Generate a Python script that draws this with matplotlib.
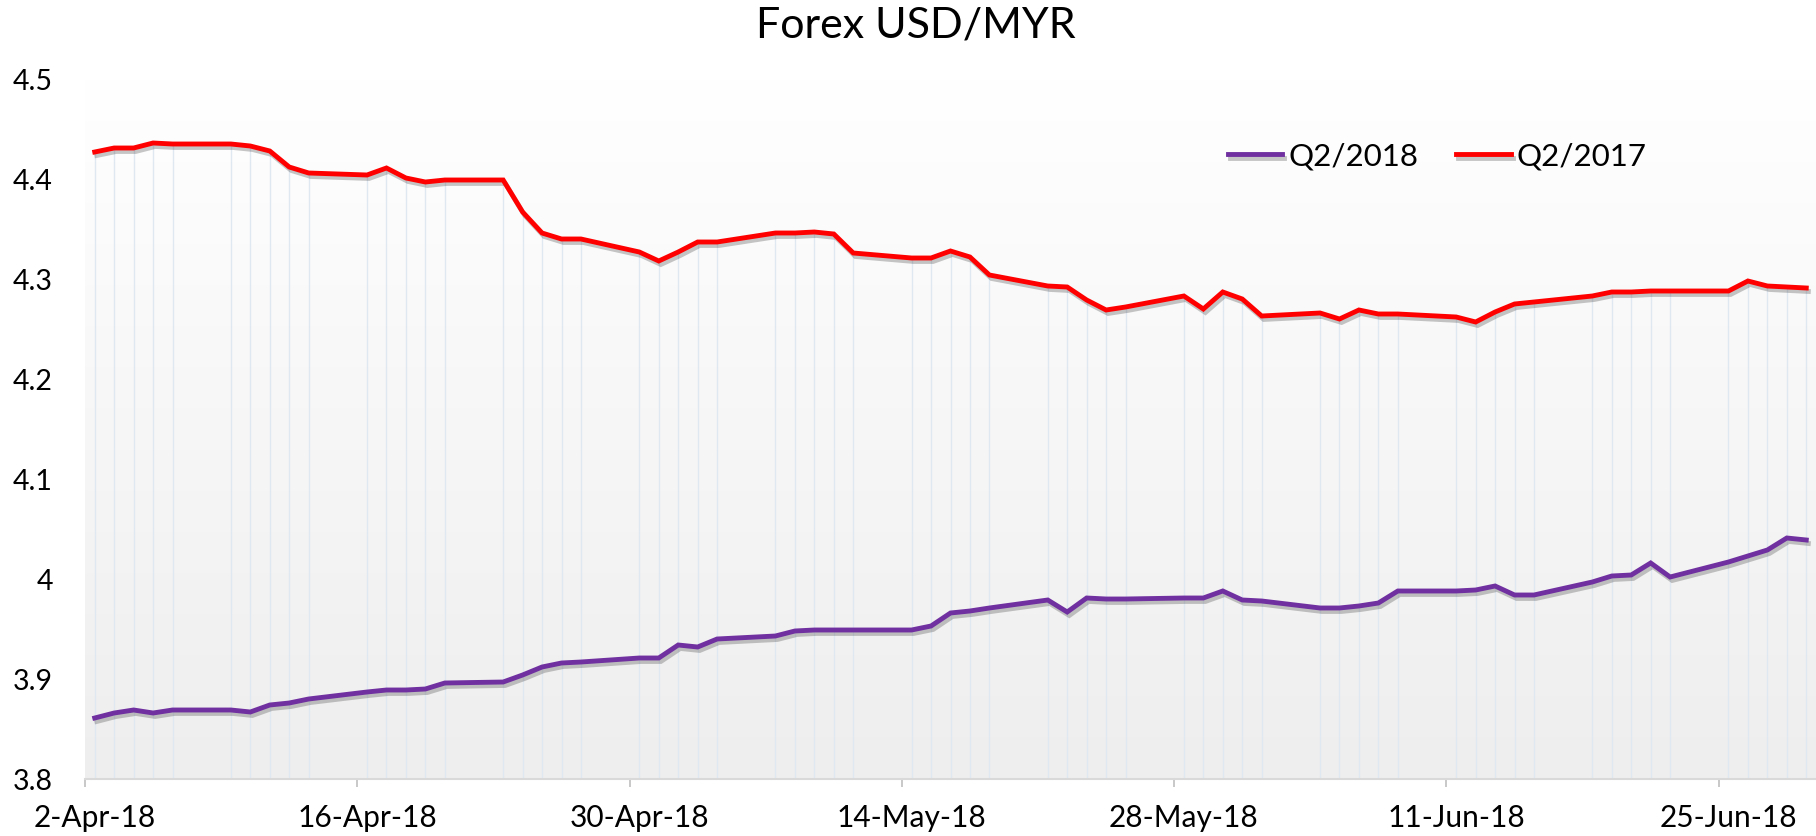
import numpy as np
import pandas as pd
import matplotlib
matplotlib.use("Agg")
import matplotlib.pyplot as plt
import matplotlib.dates as mdates
import matplotlib.patheffects as pe
from matplotlib.colors import LinearSegmentedColormap
from matplotlib.ticker import FixedLocator, NullFormatter, FixedFormatter

plt.rcParams['font.family'] = ['Lato', 'DejaVu Sans']

# trading days of Q2/2018 (the x axis)
dates = pd.bdate_range("2018-04-02", "2018-06-29")

q2_2018 = [
    3.861, 3.866, 3.869, 3.866, 3.869,
    3.869, 3.867, 3.874, 3.876, 3.880,
    3.887, 3.889, 3.889, 3.890, 3.896,
    3.897, 3.904, 3.912, 3.916, 3.917,
    3.921, 3.921, 3.934, 3.932, 3.940,
    3.943, 3.948, 3.949, 3.949, 3.949,
    3.949, 3.953, 3.966, 3.968, 3.971,
    3.979, 3.967, 3.981, 3.980, 3.980,
    3.981, 3.981, 3.988, 3.979, 3.978,
    3.971, 3.971, 3.973, 3.976, 3.988,
    3.988, 3.989, 3.993, 3.984, 3.984,
    3.997, 4.003, 4.004, 4.016, 4.002,
    4.017, 4.023, 4.029, 4.041, 4.039,
]

q2_2017 = [
    4.427, 4.431, 4.431, 4.436, 4.435,
    4.435, 4.433, 4.428, 4.412, 4.406,
    4.404, 4.411, 4.401, 4.397, 4.399,
    4.399, 4.367, 4.346, 4.340, 4.340,
    4.327, 4.318, 4.327, 4.337, 4.337,
    4.346, 4.346, 4.347, 4.345, 4.326,
    4.321, 4.321, 4.328, 4.322, 4.304,
    4.293, 4.292, 4.279, 4.269, 4.272,
    4.283, 4.270, 4.287, 4.280, 4.263,
    4.266, 4.260, 4.269, 4.265, 4.265,
    4.262, 4.257, 4.267, 4.275, 4.277,
    4.283, 4.287, 4.287, 4.288, 4.288,
    4.288, 4.298, 4.293, 4.292, 4.291,
]

label_dates = pd.to_datetime(["2018-04-02", "2018-04-16", "2018-04-30", "2018-05-14",
                              "2018-05-28", "2018-06-11", "2018-06-25"])
label_text = ["2-Apr-18", "16-Apr-18", "30-Apr-18", "14-May-18",
              "28-May-18", "11-Jun-18", "25-Jun-18"]
y_ticks = [3.8, 3.9, 4.0, 4.1, 4.2, 4.3, 4.4, 4.5]
y_text = ["3.8", "3.9", "4", "4.1", "4.2", "4.3", "4.4", "4.5"]

W, H = 1816, 837
fig = plt.figure(figsize=(W / 100, H / 100), dpi=100)
ax = fig.add_axes([85 / W, 1 - 780 / H, (W - 85) / W, 700 / H])

x = mdates.date2num(dates)
half = 0.5

# soft vertical gradient behind the plot
grad = np.linspace(0, 1, 256).reshape(-1, 1)
cmap = LinearSegmentedColormap.from_list("bg", ["#ffffff", "#eeeeee"])
ax.imshow(grad, cmap=cmap, aspect="auto", extent=[0, 1, 0, 1],
          transform=ax.transAxes, zorder=0)

# drop lines from the top series to the axis
ax.vlines(x, 3.8, q2_2017, color="#dfe7f1", lw=1.0, zorder=1)

shadow = [pe.SimpleLineShadow(offset=(1.5, -2.5), shadow_color="#444444", alpha=0.3),
          pe.Normal()]
ax.plot(x, q2_2018, color="#7030a0", lw=3.5, label="Q2/2018",
        solid_joinstyle="miter", path_effects=shadow, zorder=3)
ax.plot(x, q2_2017, color="#ff0000", lw=3.5, label="Q2/2017",
        solid_joinstyle="miter", path_effects=shadow, zorder=3)

ax.set_xlim(x[0] - half, x[-1] + half)
ax.set_ylim(3.8, 4.5)

for s in ["top", "right", "left"]:
    ax.spines[s].set_visible(False)
ax.spines["bottom"].set_color("#d9d9d9")
ax.spines["bottom"].set_linewidth(1.5)

lab_x = mdates.date2num(label_dates)
ax.xaxis.set_major_locator(FixedLocator(lab_x - half))
ax.xaxis.set_major_formatter(NullFormatter())
ax.xaxis.set_minor_locator(FixedLocator(lab_x))
ax.xaxis.set_minor_formatter(FixedFormatter(label_text))
ax.tick_params(axis="x", which="major", length=6, width=1.2, color="#bfbfbf", direction="out")
ax.tick_params(axis="x", which="minor", length=0, pad=17, labelsize=21.5, labelcolor="#000000")

ax.set_yticks(y_ticks)
ax.set_yticklabels(y_text)
ax.tick_params(axis="y", length=0, pad=23, labelsize=20.5, labelcolor="#000000")

fig.text(916 / W, 1 - 26 / H, "Forex USD/MYR", ha="center", va="center", fontsize=31)

ax.legend(loc="center left", bbox_to_anchor=(1212 / W, 1 - 157 / H),
          bbox_transform=fig.transFigure, ncol=2, frameon=False, fontsize=22.5,
          borderpad=0, handlelength=1.75, handletextpad=0.2, columnspacing=1.2)

fig.savefig("out.png", dpi=100)
